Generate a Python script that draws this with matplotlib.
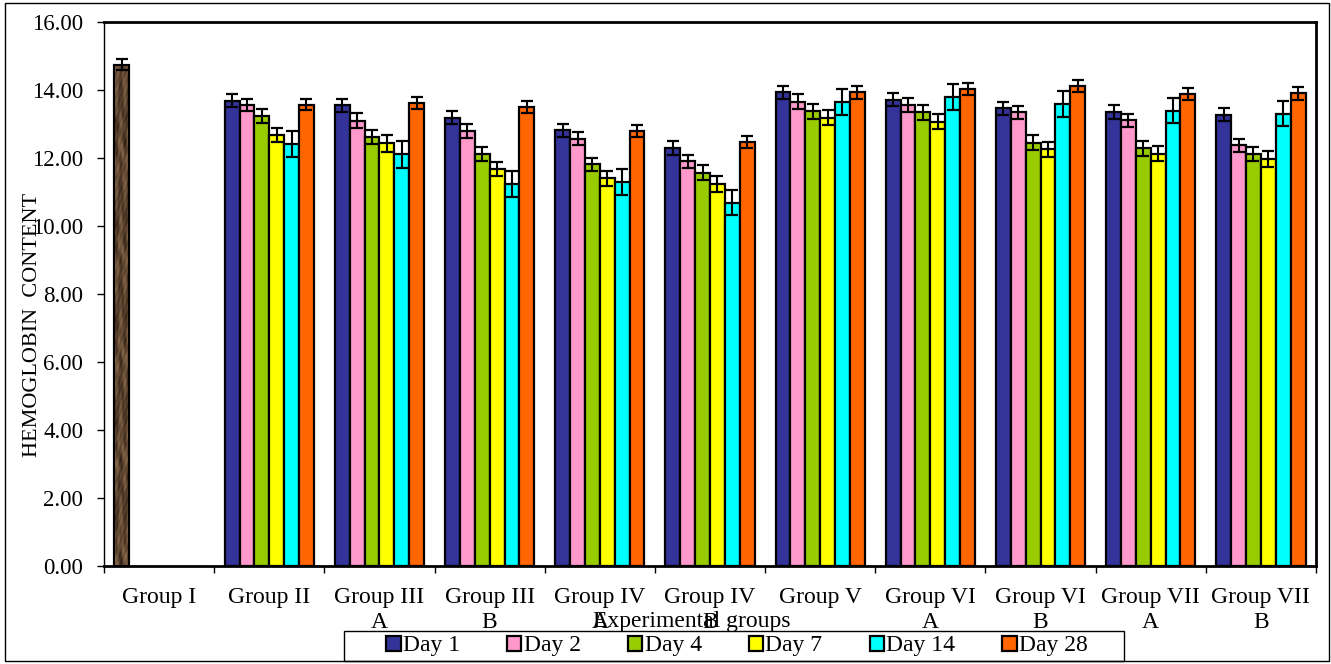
import numpy as np
import matplotlib
matplotlib.use('Agg')
import matplotlib.pyplot as plt
from matplotlib.patches import Patch, Rectangle
from matplotlib.colors import LinearSegmentedColormap

groups = ['Group I', 'Group II', 'Group III\nA', 'Group III\nB', 'Group IV\nA',
          'Group IV\nB', 'Group V', 'Group VI\nA', 'Group VI\nB', 'Group VII\nA',
          'Group VII\nB']
days = ['Day 1', 'Day 2', 'Day 4', 'Day 7', 'Day 14', 'Day 28']

# control group (single measurement)
control_mean = 14.75
control_err = 0.17

# treated groups, one list per day, Group II .. Group VII B
day1 = [13.69, 13.55, 13.19, 12.81, 12.29, 13.93, 13.71, 13.46, 13.35, 13.27]
day2 = [13.56, 13.10, 12.79, 12.57, 11.90, 13.65, 13.56, 13.34, 13.11, 12.37]
day4 = [13.24, 12.62, 12.11, 11.81, 11.57, 13.37, 13.34, 12.45, 12.28, 12.11]
day7 = [12.67, 12.43, 11.67, 11.40, 11.23, 13.19, 13.07, 12.26, 12.12, 11.97]
day14 = [12.40, 12.11, 11.24, 11.30, 10.69, 13.64, 13.80, 13.59, 13.39, 13.30]
day28 = [13.57, 13.62, 13.51, 12.79, 12.46, 13.93, 14.02, 14.12, 13.89, 13.90]

err1 = [0.19, 0.19, 0.19, 0.19, 0.20, 0.19, 0.19, 0.19, 0.20, 0.19]
err2 = [0.18, 0.21, 0.20, 0.20, 0.20, 0.22, 0.20, 0.20, 0.19, 0.20]
err4 = [0.20, 0.20, 0.21, 0.20, 0.21, 0.23, 0.21, 0.22, 0.22, 0.21]
err7 = [0.21, 0.25, 0.21, 0.21, 0.23, 0.22, 0.23, 0.22, 0.22, 0.23]
err14 = [0.38, 0.39, 0.38, 0.38, 0.38, 0.38, 0.38, 0.38, 0.37, 0.37]
err28 = [0.17, 0.17, 0.18, 0.17, 0.18, 0.18, 0.18, 0.17, 0.18, 0.19]

colors = ['#333399', '#FF99CC', '#99CC00', '#FFFF00', '#00FFFF', '#FF6600']

W, H = 1331, 664


def textured_bar(ax, x, height, width):
    """Brown mottled bar used for the control group."""
    bar = ax.bar(x, height, width, color='#6b4f36', edgecolor='black',
                 linewidth=1.5, zorder=2)[0]
    yy, xx = np.mgrid[0:300, 0:16].astype(float)
    tex = (0.5 + 0.2 * np.sin(yy * 0.11 + np.sin(xx * 0.7) * 2.0)
           + 0.15 * np.sin(yy * 0.37 + xx * 0.5) * np.cos(yy * 0.05)
           + 0.1 * np.sin(yy * 0.9 - xx * 1.3))
    cmap = LinearSegmentedColormap.from_list('bark', ['#2e1f14', '#5e4530', '#8f7050'])
    im = ax.imshow(tex, extent=[x - width / 2, x + width / 2, 0, height],
                   aspect='auto', cmap=cmap, zorder=2.1, origin='lower',
                   interpolation='bilinear')
    im.set_clip_path(bar)
    ax.add_patch(Rectangle((x - width / 2, 0), width, height, fill=False,
                           edgecolor='black', linewidth=1.5, zorder=2.2))


def main():
    plt.rcParams['font.family'] = ['Liberation Serif', 'DejaVu Serif']

    fig = plt.figure(figsize=(W / 100, H / 100), dpi=100)
    ax = fig.add_axes([104 / W, (H - 566) / H, 1212 / W, 544 / H])

    bw = 0.135
    series = [day1, day2, day4, day7, day14, day28]
    errs = [err1, err2, err4, err7, err14, err28]
    xs = np.arange(1, len(groups))
    for j, (vals, e) in enumerate(zip(series, errs)):
        pos = xs + (j - 2.5) * bw
        ax.bar(pos, vals, bw, color=colors[j], edgecolor='black',
               linewidth=1.6, zorder=2)
        ax.errorbar(pos, vals, yerr=e, fmt='none', ecolor='black',
                    elinewidth=1.5, capsize=4.5, capthick=1.6, zorder=3)

    x0 = 0 - 2.5 * bw
    textured_bar(ax, x0, control_mean, bw)
    ax.errorbar([x0], [control_mean], yerr=[control_err], fmt='none',
                ecolor='black', elinewidth=1.5, capsize=4.5, capthick=1.6, zorder=3)

    ax.set_xlim(-0.5, len(groups) - 0.5)
    ax.set_ylim(0, 16)
    ax.set_yticks(np.arange(0, 17, 2))
    ax.set_yticklabels(['%.2f' % v for v in np.arange(0, 17, 2)], fontsize=16.5)
    ax.tick_params(axis='y', direction='out', length=5, width=1, pad=10)

    ax.set_xticks(np.arange(len(groups)))
    ax.set_xticklabels(groups, fontsize=17, linespacing=1.25)
    ax.set_xticks(np.arange(len(groups) + 1) - 0.5, minor=True)
    ax.tick_params(axis='x', which='major', length=0, pad=15)
    ax.tick_params(axis='x', which='minor', direction='out', length=5, width=1)

    for side in ['top', 'right', 'bottom']:
        ax.spines[side].set_linewidth(2)
    ax.spines['left'].set_linewidth(1)

    fig.text(33 / W, 1 - 325 / H, 'HEMOGLOBIN  CONTENT', rotation=90,
             ha='center', va='center', fontsize=16)
    fig.text(692 / W, 1 - 622 / H, 'Experimental groups', ha='center',
             va='center', fontsize=17)

    # legend entries without their own frame; the box is drawn separately
    handles = [Patch(facecolor=c, edgecolor='black', linewidth=1.6) for c in colors]
    fig.legend(handles, days, loc='center', ncol=6,
               bbox_to_anchor=(737 / W, 1 - 646 / H), fontsize=17,
               frameon=False, handlelength=0.6, handleheight=0.6,
               handletextpad=0.1, columnspacing=2.0, borderpad=0.1,
               borderaxespad=0)
    fig.patches.append(Rectangle((344 / W, 1 - 661 / H), 780 / W, 30 / H,
                                 transform=fig.transFigure, fill=False,
                                 edgecolor='black', linewidth=1))

    fig.patches.append(Rectangle((5 / W, 3 / H), 1324 / W, 658 / H,
                                 transform=fig.transFigure, fill=False,
                                 edgecolor='black', linewidth=1))

    fig.savefig('out.png', dpi=100)


if __name__ == '__main__':
    main()
